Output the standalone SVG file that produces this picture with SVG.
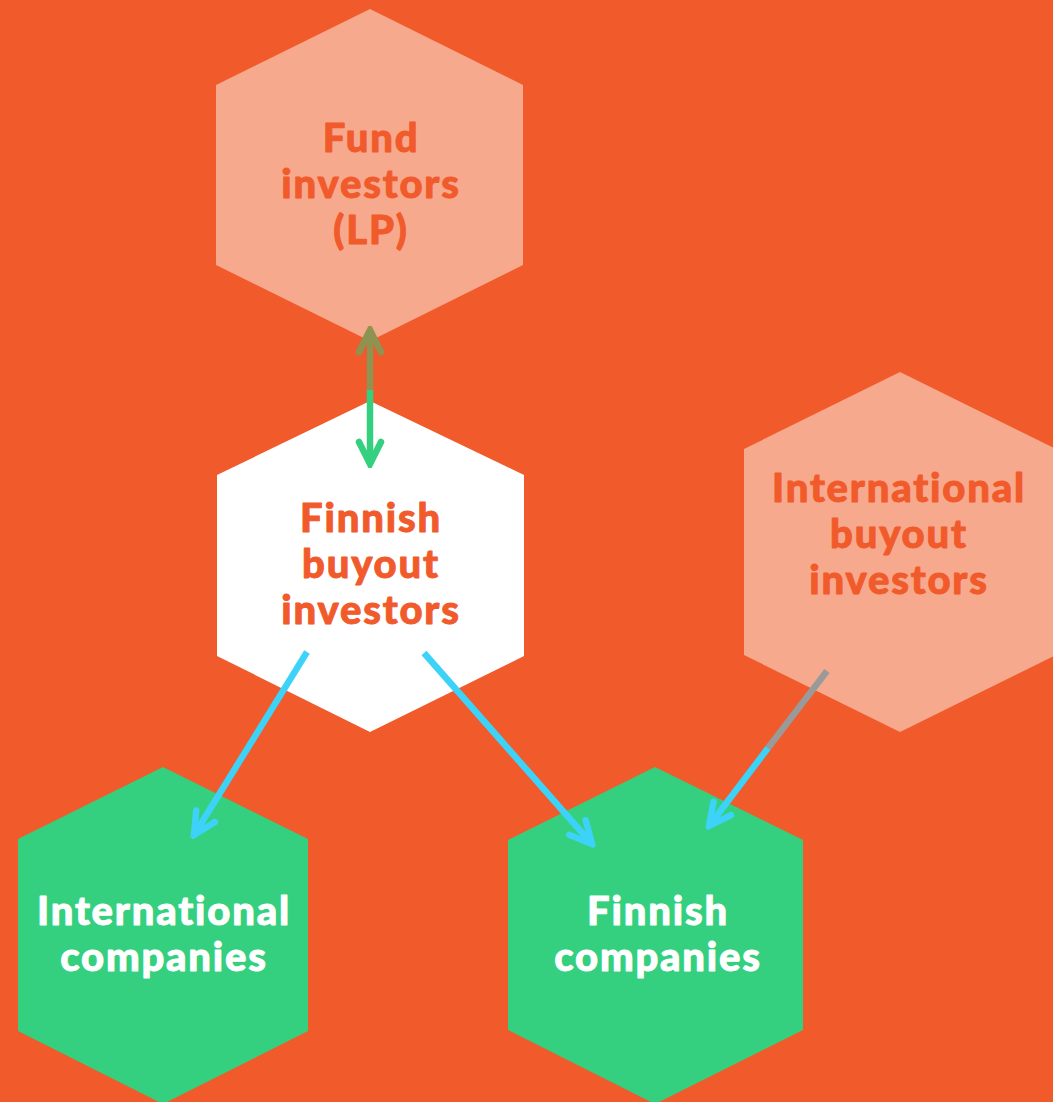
<svg xmlns="http://www.w3.org/2000/svg" width="1053" height="1102" viewBox="0 0 1053 1102">
<style>
.light{fill:#F7A98D}
.white{fill:#FFFFFF}
.green{fill:#35D07F}
.t{font-family:Lato,"Liberation Sans",sans-serif;font-weight:900;font-size:40px;letter-spacing:1.8px;text-anchor:middle;stroke-width:0.9px;stroke-linejoin:round}
.to{fill:#F15A2B;stroke:#F15A2B}
.tw{fill:#FFFFFF;stroke:#FFFFFF}
.ln{fill:none;stroke-width:6.5}
.blue{stroke:#3DD2F8}
.gr{stroke:#35D07F}
.ol{stroke:#8E9352}
.gy{stroke:#9A9A9A}
</style>
<defs>
<marker id="mb" markerUnits="userSpaceOnUse" viewBox="-30 -16 34 32" markerWidth="34" markerHeight="32" refX="0" refY="0" orient="auto"><path d="M-22,-11 L0,0 L-22,11" fill="none" stroke="#3DD2F8" stroke-width="6.5" stroke-linecap="round"/></marker>
<marker id="mg" markerUnits="userSpaceOnUse" viewBox="-30 -16 34 32" markerWidth="34" markerHeight="32" refX="0" refY="0" orient="auto"><path d="M-22,-11 L0,0 L-22,11" fill="none" stroke="#35D07F" stroke-width="6.5" stroke-linecap="round"/></marker>
<marker id="mo" markerUnits="userSpaceOnUse" viewBox="-30 -16 34 32" markerWidth="34" markerHeight="32" refX="0" refY="0" orient="auto-start-reverse"><path d="M-22,-11 L0,0 L-22,11" fill="none" stroke="#8E9352" stroke-width="6.5" stroke-linecap="round"/></marker>
</defs>
<rect width="1053" height="1102" fill="#F15A2B"/>
<g id="fund-investors">
<polygon class="light" points="370,9 523,85 523,265 370,341 216,265 216,85"/>
<text class="t to" x="371" y="152">Fund</text>
<text class="t to" x="371" y="198">investors</text>
<text class="t to" x="371" y="244">(LP)</text>
</g>
<g id="finnish-buyout">
<polygon class="white" points="370,401 524,475 524,656 370,732 217,656 217,475"/>
<text class="t to" x="371" y="532">Finnish</text>
<text class="t to" x="371" y="578">buyout</text>
<text class="t to" x="371" y="624">investors</text>
</g>
<g id="intl-buyout">
<polygon class="light" points="900,372 1056,449 1056,655 900,732 744,655 744,449"/>
<text class="t to" x="899" y="502">International</text>
<text class="t to" x="899" y="548">buyout</text>
<text class="t to" x="899" y="594">investors</text>
</g>
<g id="intl-companies">
<polygon class="green" points="163,767 308,839 308,1031 163,1104 18,1031 18,839"/>
<text class="t tw" x="164" y="925">International</text>
<text class="t tw" x="164" y="971">companies</text>
</g>
<g id="finnish-companies">
<polygon class="green" points="655,767 803,840 803,1030 655,1104 508,1030 508,840"/>
<text class="t tw" x="658" y="925">Finnish</text>
<text class="t tw" x="658" y="971">companies</text>
</g>
<g id="connectors">
<line class="ln ol" x1="370" y1="330" x2="370" y2="390" marker-start="url(#mo)"/>
<line class="ln gr" x1="370" y1="390" x2="370" y2="464" marker-end="url(#mg)"/>
<line class="ln blue" x1="307" y1="652" x2="194" y2="835" marker-end="url(#mb)"/>
<line class="ln blue" x1="424" y1="653" x2="592" y2="844" marker-end="url(#mb)"/>
<line class="ln gy" x1="827" y1="671" x2="768" y2="748"/>
<line class="ln blue" x1="768" y1="748" x2="709" y2="826" marker-end="url(#mb)"/>
</g>
</svg>
